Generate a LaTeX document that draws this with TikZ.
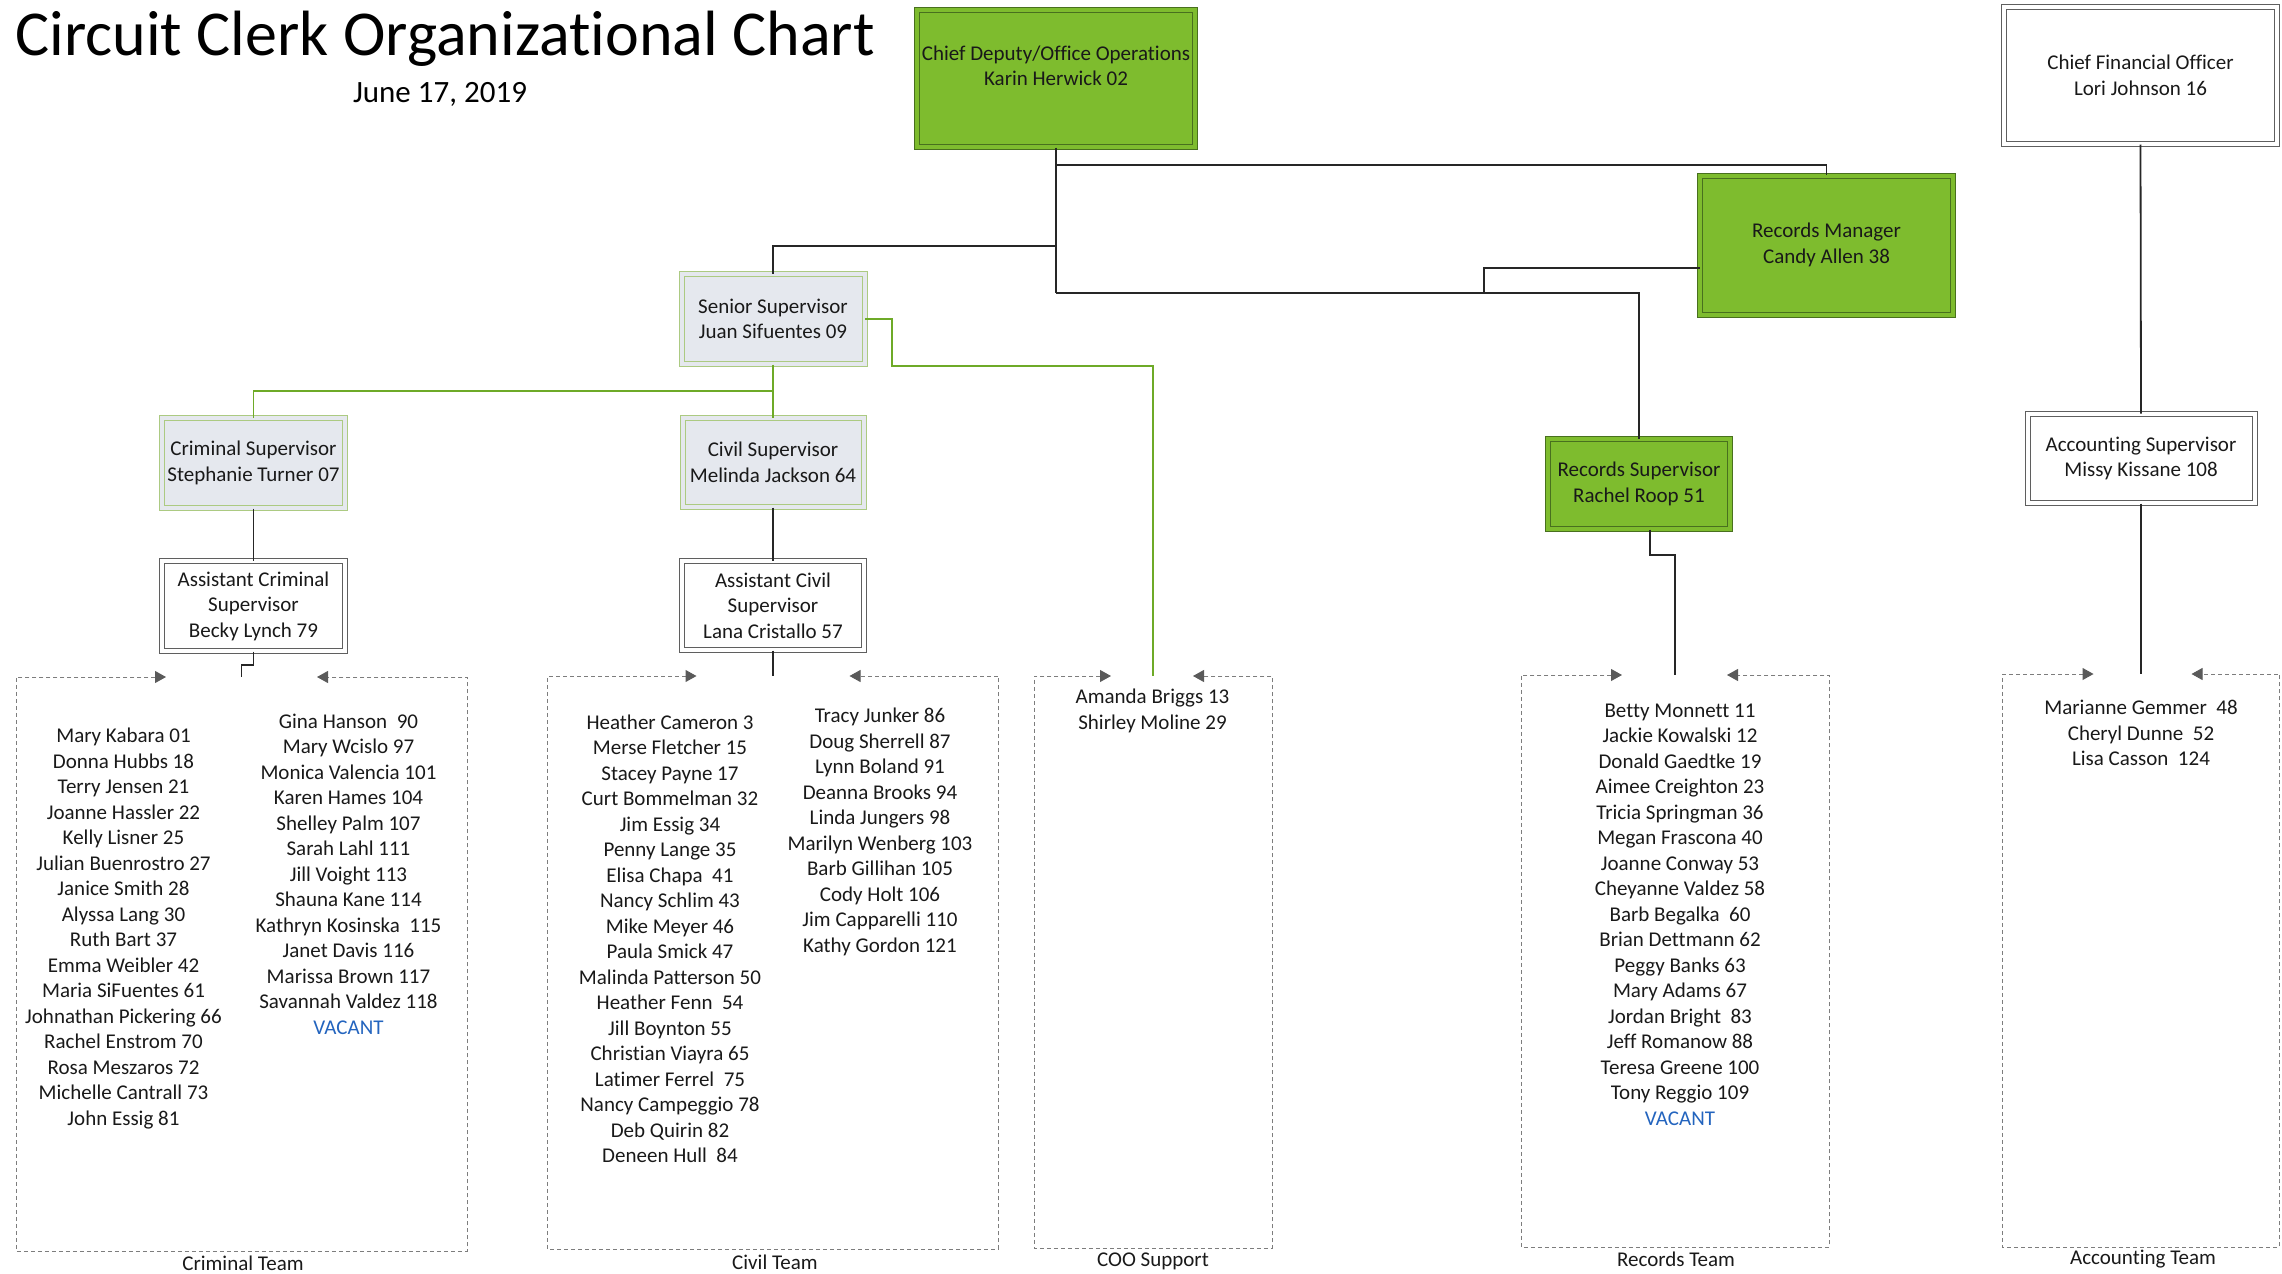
\documentclass[tikz,border=0pt]{standalone}
\usepackage{fontspec}
\setmainfont{Carlito}[Ligatures={NoCommon}]
\usetikzlibrary{arrows.meta,calc}
\definecolor{grfill}{RGB}{126,188,46}
\definecolor{grdark}{RGB}{72,112,30}
\definecolor{ltfill}{RGB}{229,232,238}
\definecolor{ltborder}{RGB}{172,202,130}
\definecolor{wborder}{RGB}{95,95,95}
\definecolor{grline}{RGB}{110,170,40}
\definecolor{dashgray}{RGB}{125,125,125}
\definecolor{arrowgray}{RGB}{90,90,90}
\definecolor{vacant}{RGB}{35,100,190}
\definecolor{txtc}{RGB}{25,25,25}
\begin{document}
\begin{tikzpicture}[x=0.5pt,y=-0.5pt,
  txt/.style={font=\fontsize{10.5}{12.75}\selectfont, align=center, inner sep=0pt, text=txtc},
  box/.style={rectangle, inner sep=0pt, align=center, font=\fontsize{10.5}{12.75}\selectfont, text=txtc, line width=0.5pt, double distance=2pt},
  greenbox/.style={box, fill=grfill, draw=grdark, double=grfill},
  lightbox/.style={box, fill=ltfill, draw=ltborder, double=ltfill},
  whitebox/.style={box, fill=white, draw=wborder, double=white},
  sz/.style 2 args={minimum width=#1, minimum height=#2},
  area/.style={rectangle, inner sep=0pt, outer sep=0pt},
  teamedge/.style={draw=dashgray, dash pattern=on 2pt off 1.5pt, line width=0.5pt,
    arrows={Triangle[length=5.5pt,width=6pt,color=arrowgray]-Triangle[length=5.5pt,width=6pt,color=arrowgray]}},
  blk/.style={draw=black!85, line width=0.9pt},
  grn/.style={draw=grline, line width=0.9pt}
]
\useasboundingbox (0,0) rectangle (2282,1274);

% title
\node[anchor=base west, inner sep=0pt, font=\fontsize{32}{36}\selectfont, text=black] (title) at (15,55) {Circuit Clerk Organizational Chart};
\node[anchor=base, inner sep=0pt, font=\fontsize{15.5}{18}\selectfont, text=black] (date) at (440,102) {June 17, 2019};

% boxes
\node[greenbox, sz={139pt}{68.5pt}] (cd) at (1056,78.5) {};
\node[txt] (cdt) at (1056,66) {Chief Deputy/Office Operations\\Karin Herwick 02};
\node[whitebox, sz={136.5pt}{68.5pt}] (cfo) at (2140.5,75.5) {Chief Financial Officer\\Lori Johnson 16};
\node[greenbox, sz={126.5pt}{69.5pt}] (rm) at (1826.5,245) {Records Manager\\Candy Allen 38};
\node[greenbox, sz={91pt}{45pt}] (rs) at (1639,484) {Records Supervisor\\Rachel Roop 51};
\node[whitebox, sz={113.5pt}{44.5pt}] (as) at (2141,458.5) {Accounting Supervisor\\Missy Kissane 108};
\node[lightbox, sz={91.5pt}{45pt}] (ss) at (773,319) {Senior Supervisor\\Juan Sifuentes 09};
\node[lightbox, sz={91.5pt}{45pt}] (crs) at (253.5,463) {Criminal Supervisor\\Stephanie Turner 07};
\node[lightbox, sz={90.5pt}{44.5pt}] (cvs) at (773,462.5) {Civil Supervisor\\Melinda Jackson 64};
\node[whitebox, sz={91.5pt}{45pt}] (acs) at (253.5,606) {Assistant Criminal\\Supervisor\\Becky Lynch 79};
\node[whitebox, sz={91pt}{44.5pt}] (avs) at (773,605.5) {Assistant Civil\\Supervisor\\Lana Cristallo 57};

% team areas
\node[area, sz={225.5pt}{287pt}] (crt) at (241.5,964) {};
\node[area, sz={225.5pt}{286.5pt}] (cvt) at (773,962.5) {};
\node[area, sz={119pt}{286pt}] (coot) at (1153,962) {};
\node[area, sz={154pt}{286pt}] (rt) at (1675,961) {};
\node[area, sz={138.5pt}{286.5pt}] (at) at (2141,960.5) {};

\draw[teamedge] ($(crt.north west)+(150,0)$) -- (crt.north west) -- (crt.south west) -- (crt.south east) -- (crt.north east) -- ($(crt.north east)+(-150,0)$);
\draw[teamedge] ($(cvt.north west)+(149,0)$) -- (cvt.north west) -- (cvt.south west) -- (cvt.south east) -- (cvt.north east) -- ($(cvt.north east)+(-149,0)$);
\draw[teamedge] ($(coot.north west)+(77,0)$) -- (coot.north west) -- (coot.south west) -- (coot.south east) -- (coot.north east) -- ($(coot.north east)+(-79,0)$);
\draw[teamedge] ($(rt.north west)+(101,0)$) -- (rt.north west) -- (rt.south west) -- (rt.south east) -- (rt.north east) -- ($(rt.north east)+(-102,0)$);
\draw[teamedge] ($(at.north west)+(91,0)$) -- (at.north west) -- (at.south west) -- (at.south east) -- (at.north east) -- ($(at.north east)+(-88,0)$);

% team labels
\node[txt] (crtl) at (243,1263) {Criminal Team};
\node[txt] (cvtl) at (775,1262) {Civil Team};
\node[txt] (cootl) at (1153,1261) {COO Support};
\node[txt] (rtl) at (1676,1259) {Records Team};
\node[txt] (atl) at (2143,1259) {Accounting Team};

% lists
\node[txt] (crimL) at (123.5,928.5) {Mary Kabara 01\\Donna Hubbs 18\\Terry Jensen 21\\Joanne Hassler 22\\Kelly Lisner 25\\Julian Buenrostro 27\\Janice Smith 28\\Alyssa Lang 30\\Ruth Bart 37\\Emma Weibler 42\\Maria SiFuentes 61\\Johnathan Pickering 66\\Rachel Enstrom 70\\Rosa Meszaros 72\\Michelle Cantrall 73\\John Essig 81};
\node[txt] (crimR) at (348.5,874) {Gina Hanson~ 90\\Mary Wcislo 97\\Monica Valencia 101\\Karen Hames 104\\Shelley Palm 107\\Sarah Lahl 111\\Jill Voight 113\\Shauna Kane 114\\Kathryn Kosinska~ 115\\Janet Davis 116\\Marissa Brown 117\\Savannah Valdez 118\\{\color{vacant}VACANT}};
\node[txt] (civL) at (670,939) {Heather Cameron 3\\Merse Fletcher 15\\Stacey Payne 17\\Curt Bommelman 32\\Jim Essig 34\\Penny Lange 35\\Elisa Chapa~ 41\\Nancy Schlim 43\\Mike Meyer 46\\Paula Smick 47\\Malinda Patterson 50\\Heather Fenn~ 54\\Jill Boynton 55\\Christian Viayra 65\\Latimer Ferrel~ 75\\Nancy Campeggio 78\\Deb Quirin 82\\Deneen Hull~ 84};
\node[txt] (civR) at (880,832) {Tracy Junker 86\\Doug Sherrell 87\\Lynn Boland 91\\Deanna Brooks 94\\Linda Jungers 98\\Marilyn Wenberg 103\\Barb Gillihan 105\\Cody Holt 106\\Jim Capparelli 110\\Kathy Gordon 121};
\node[txt] (cool) at (1152.5,710.7) {Amanda Briggs 13\\Shirley Moline 29};
\node[txt] (recl) at (1680,914.7) {Betty Monnett 11\\Jackie Kowalski 12\\Donald Gaedtke 19\\Aimee Creighton 23\\Tricia Springman 36\\Megan Frascona 40\\Joanne Conway 53\\Cheyanne Valdez 58\\Barb Begalka~ 60\\Brian Dettmann 62\\Peggy Banks 63\\Mary Adams 67\\Jordan Bright~ 83\\Jeff Romanow 88\\Teresa Greene 100\\Tony Reggio 109\\{\color{vacant}VACANT}};
\node[txt] (accl) at (2141,733) {Marianne Gemmer~ 48\\Cheryl Dunne~ 52\\Lisa Casson~ 124};

% junctions
\coordinate (t1) at (1056,165);
\coordinate (t2) at (1056,246);
\coordinate (t3) at (1056,293);
\coordinate (r1) at (1484,268);
\coordinate (r2) at (1484,293);
\coordinate (q1) at (1650,555);
\coordinate (k1) at (253.5,665);
\coordinate (g1) at (773,391);
\coordinate (g2) at (892,366);

% black connectors
\draw[blk] (cd.south) -- (t3);
\draw[blk] (t1) -| (rm.north);
\draw[blk] (t2) -| (ss.north);
\draw[blk] (t3) -| (rs.north);
\draw[blk] (rm.west |- r1) -- (r1) -- (r2);
\draw[blk] (rs.south -| q1) -- (q1) -| (rt.north);
\draw[blk] (cfo.south) -- (as.north);
\draw[blk] (as.south) -- (at.north);
\draw[blk] (crs.south) -- (acs.north);
\draw[blk] (cvs.south) -- (avs.north);
\draw[blk] (acs.south) -- (k1) -| (crt.north);
\draw[blk] (avs.south) -- (cvt.north);

% green connectors
\draw[grn] (ss.south) -- (g1) -| (crs.north);
\draw[grn] (g1) -- (cvs.north);
\draw[grn] (ss.east) -| (g2) -| (coot.north);
\end{tikzpicture}
\end{document}
